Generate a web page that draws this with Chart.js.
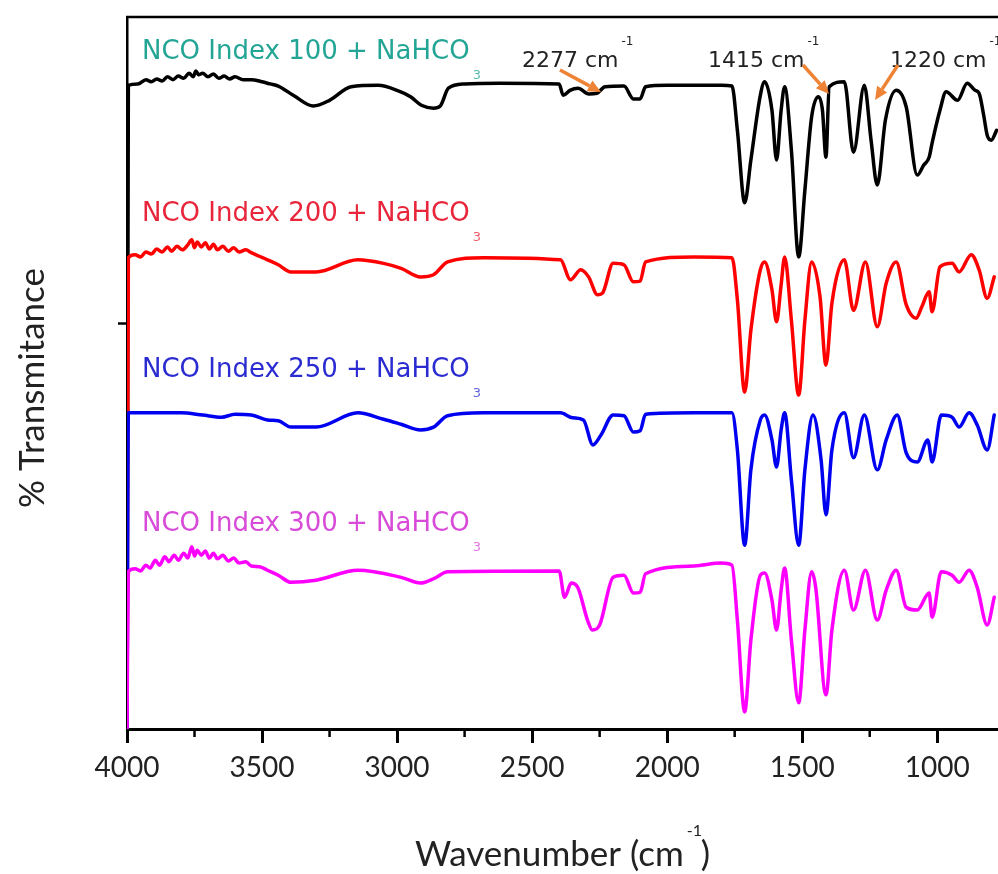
<!DOCTYPE html>
<html>
<head>
<meta charset="utf-8">
<title>FTIR NCO Index + NaHCO3</title>
<script src="https://cdn.jsdelivr.net/npm/chart.js@4.4.1/dist/chart.umd.min.js"></script>
<style>
  html, body { margin: 0; padding: 0; background: #fff; overflow: hidden; }
  #ftir-chart { display: block; }
</style>
</head>
<body>
<canvas id="ftir-chart" width="998" height="874"></canvas>
<script>
// Espectros FTIR (% transmitância com deslocamento)
const wn100 = [4000, 3995, 3960, 3930, 3910, 3890, 3870, 3850, 3830, 3810, 3790, 3770, 3755, 3745, 3735, 3720, 3700, 3680, 3660, 3640, 3620, 3600, 3570, 3540, 3500, 3470, 3440, 3380, 3310, 3250, 3170, 3070, 3000, 2950, 2910, 2865, 2840, 2810, 2750, 2620, 2400, 2385, 2360, 2330, 2290, 2260, 2230, 2160, 2125, 2100, 2080, 2000, 1800, 1760, 1740, 1713, 1690, 1655, 1639, 1612, 1595, 1578, 1565, 1540, 1513, 1490, 1465, 1440, 1425, 1412, 1400, 1344, 1310, 1270, 1245, 1222, 1192, 1152, 1115, 1074, 1050, 1030, 1019, 990, 967, 925, 889, 860, 845, 828, 815, 800, 780];
const t100 = [0, 90.4, 90.6, 91.2, 90.9, 91.3, 91.0, 91.6, 91.2, 91.7, 91.4, 92.1, 91.6, 92.4, 91.9, 92.1, 91.6, 92.0, 91.4, 91.7, 91.3, 91.6, 91.2, 91.2, 90.9, 90.6, 90.3, 88.9, 87.5, 88.3, 90.2, 90.4, 89.7, 88.8, 87.6, 87.2, 87.5, 90.0, 90.6, 90.7, 90.6, 89.0, 89.7, 90.0, 89.2, 89.3, 90.2, 90.3, 88.5, 88.5, 90.2, 90.4, 90.4, 90.3, 84.1, 73.9, 79.9, 89.0, 90.9, 86.9, 79.9, 86.9, 90.2, 81.3, 66.3, 75.7, 86.0, 88.8, 86.9, 80.3, 90.2, 90.9, 81.0, 90.4, 82.7, 76.4, 85.5, 89.7, 87.4, 77.8, 79.2, 80.3, 82.3, 86.9, 89.5, 88.3, 90.7, 89.7, 89.3, 86.2, 83.4, 82.7, 84.1];

const wn200 = [4000, 3995, 3970, 3950, 3930, 3910, 3890, 3870, 3850, 3835, 3815, 3795, 3775, 3760, 3750, 3740, 3725, 3710, 3695, 3680, 3665, 3645, 3625, 3605, 3585, 3560, 3540, 3510, 3480, 3440, 3393, 3300, 3145, 3050, 2985, 2913, 2865, 2813, 2680, 2395, 2358, 2320, 2291, 2258, 2240, 2200, 2160, 2125, 2100, 2080, 1900, 1760, 1740, 1713, 1690, 1655, 1639, 1612, 1595, 1578, 1565, 1540, 1513, 1490, 1465, 1434, 1412, 1390, 1344, 1310, 1266, 1222, 1189, 1152, 1115, 1078, 1057, 1030, 1019, 990, 945, 919, 874, 845, 815, 789];
const t200 = [0, 66.2, 66.6, 66.3, 67.0, 66.7, 67.4, 67.0, 67.7, 67.1, 67.8, 67.3, 68.0, 68.7, 67.6, 68.4, 67.7, 68.3, 67.4, 68.1, 67.3, 67.8, 67.1, 67.6, 67.0, 67.3, 66.9, 66.4, 65.9, 65.2, 64.2, 64.2, 65.9, 65.4, 64.7, 63.5, 63.8, 65.6, 66.2, 65.9, 63.1, 64.5, 63.5, 61.0, 61.2, 65.4, 65.2, 62.8, 62.9, 65.6, 66.3, 66.2, 60.3, 47.3, 56.0, 64.5, 65.6, 61.7, 57.2, 62.4, 66.3, 57.4, 46.9, 57.4, 65.6, 60.7, 51.1, 59.8, 65.9, 58.8, 65.6, 56.5, 62.6, 65.6, 59.6, 57.7, 59.3, 61.4, 58.6, 64.9, 65.4, 64.2, 66.6, 64.5, 60.5, 63.5];

const wn250 = [4000, 3995, 3800, 3720, 3650, 3600, 3540, 3480, 3440, 3393, 3300, 3145, 3050, 2985, 2913, 2865, 2813, 2680, 2395, 2350, 2310, 2275, 2245, 2200, 2160, 2125, 2100, 2080, 1900, 1760, 1740, 1713, 1690, 1655, 1639, 1612, 1595, 1578, 1565, 1540, 1513, 1490, 1460, 1430, 1412, 1390, 1344, 1310, 1270, 1222, 1189, 1148, 1115, 1074, 1035, 1030, 1019, 985, 945, 919, 882, 852, 815, 789];
const t250 = [0, 44.4, 44.4, 44.1, 43.8, 44.2, 44.1, 43.4, 43.3, 42.4, 42.4, 44.4, 43.5, 42.8, 42.0, 42.4, 44.0, 44.4, 44.4, 43.7, 43.4, 39.9, 41.3, 44.1, 44.0, 41.7, 41.9, 44.2, 44.4, 44.4, 39.2, 25.8, 36.4, 43.4, 44.1, 40.6, 36.8, 42.0, 44.4, 35.0, 25.8, 36.4, 44.1, 37.8, 30.1, 39.2, 44.4, 38.1, 44.1, 36.4, 40.6, 44.1, 38.8, 37.5, 40.6, 39.9, 37.5, 44.1, 43.8, 42.4, 44.4, 42.7, 39.2, 44.1];

const wn300 = [4000, 3995, 3970, 3950, 3930, 3915, 3895, 3880, 3860, 3845, 3825, 3810, 3790, 3775, 3760, 3750, 3740, 3725, 3710, 3695, 3680, 3665, 3645, 3625, 3605, 3585, 3560, 3540, 3510, 3480, 3440, 3393, 3300, 3145, 2985, 2913, 2860, 2813, 2400, 2380, 2355, 2330, 2295, 2277, 2250, 2200, 2160, 2125, 2100, 2080, 1900, 1800, 1760, 1740, 1713, 1690, 1655, 1639, 1612, 1595, 1578, 1565, 1540, 1513, 1490, 1465, 1450, 1412, 1390, 1344, 1310, 1266, 1222, 1189, 1152, 1115, 1074, 1030, 1019, 985, 945, 919, 882, 852, 815, 789];
const t300 = [0, 22.1, 22.5, 22.2, 23.0, 22.6, 23.7, 23.0, 24.2, 23.5, 24.4, 23.7, 24.7, 24.0, 25.6, 24.3, 25.1, 24.4, 25.0, 24.0, 24.7, 23.9, 24.4, 23.6, 24.0, 23.3, 23.5, 22.9, 22.8, 22.3, 21.6, 20.6, 20.9, 22.3, 21.3, 20.5, 21.2, 22.1, 22.2, 18.5, 20.5, 19.8, 15.3, 13.9, 14.6, 21.3, 21.6, 19.1, 19.2, 21.8, 22.9, 23.3, 23.0, 15.3, 2.4, 12.5, 21.6, 21.9, 18.1, 13.9, 19.5, 22.6, 12.5, 3.7, 13.9, 22.1, 19.9, 4.8, 13.9, 22.3, 16.7, 22.3, 15.3, 19.5, 22.3, 17.1, 16.7, 19.1, 15.7, 22.1, 21.6, 20.6, 22.3, 19.9, 14.6, 18.5];

const seriesLabels = ['NCO Index 100 + NaHCO', 'NCO Index 200 + NaHCO', 'NCO Index 250 + NaHCO', 'NCO Index 300 + NaHCO'];
const peakLabels = ['2277 cm', '1415 cm', '1220 cm'];

const xMajorTicks = [4000, 3500, 3000, 2500, 2000, 1500, 1000];
const xMinorTicks = [3750, 3250, 2750, 2250, 1750, 1250];
const yTicks = [57];

const lineColors = ['#000000', '#ff0000', '#0000f0', '#ff00ff'];
const labelColors = ['#22a595', '#e8253a', '#2b2bd2', '#d84ad8'];

function toPoints(wn, t) {
  return wn.map((x, i) => ({ x: x, y: t[i] }));
}

const series = [[wn100, t100], [wn200, t200], [wn250, t250], [wn300, t300]];

const datasets = series.map((s, i) => ({
  label: seriesLabels[i] + '3',
  data: toPoints(s[0], s[1]),
  borderColor: lineColors[i],
  backgroundColor: lineColors[i],
  borderWidth: 3.5,
  pointRadius: 0,
  cubicInterpolationMode: 'monotone',
  borderJoinStyle: 'round',
  borderCapStyle: 'round',
  fill: false,
  order: 3 - i
}));

// textos, setas e ticks menores desenhados por cima
const overlayPlugin = {
  id: 'overlay',
  afterDraw(chart) {
    const ctx = chart.ctx;
    const a = chart.chartArea;
    const x = chart.scales.x;
    ctx.save();

    // moldura superior
    ctx.strokeStyle = '#000';
    ctx.lineWidth = 2.5;
    ctx.beginPath();
    ctx.moveTo(a.left - 1, a.top);
    ctx.lineTo(a.right, a.top);
    ctx.stroke();

    // ticks menores do eixo x
    xMinorTicks.forEach(v => {
      const px = x.getPixelForValue(v);
      ctx.beginPath();
      ctx.moveTo(px, a.bottom);
      ctx.lineTo(px, a.bottom + 8);
      ctx.stroke();
    });

    // rótulos das séries
    const labelBase = [59, 221, 377, 531];
    ctx.textBaseline = 'alphabetic';
    ctx.textAlign = 'left';
    seriesLabels.forEach((txt, i) => {
      ctx.font = '26px "DejaVu Sans"';
      ctx.fillStyle = labelColors[i];
      ctx.fillText(txt, 142, labelBase[i]);
      const w = ctx.measureText(txt).width;
      ctx.font = '13px "DejaVu Sans"';
      ctx.globalAlpha = 0.75;
      ctx.fillText('3', 142 + w + 3, labelBase[i] + 20);
      ctx.globalAlpha = 1;
    });

    // picos anotados
    const peakLeft = [522, 708, 890];
    ctx.fillStyle = '#222';
    peakLabels.forEach((txt, i) => {
      ctx.font = '22px "DejaVu Sans"';
      ctx.fillText(txt, peakLeft[i], 67);
      const w = ctx.measureText(txt).width;
      ctx.font = '12px "DejaVu Sans"';
      ctx.fillText('-1', peakLeft[i] + w + 3, 45);
    });

    // setas laranja
    const arrows = [[560, 70, 601, 92], [803, 65, 829, 94], [898, 65, 875, 100]];
    ctx.strokeStyle = '#ee8336';
    ctx.fillStyle = '#ee8336';
    ctx.lineWidth = 3.5;
    arrows.forEach(([x0, y0, x1, y1]) => {
      const ang = Math.atan2(y1 - y0, x1 - x0);
      const head = 13;
      const bx = x1 - head * Math.cos(ang);
      const by = y1 - head * Math.sin(ang);
      ctx.beginPath();
      ctx.moveTo(x0, y0);
      ctx.lineTo(bx, by);
      ctx.stroke();
      ctx.beginPath();
      ctx.moveTo(x1, y1);
      ctx.lineTo(bx + 6 * Math.sin(ang), by - 6 * Math.cos(ang));
      ctx.lineTo(bx - 6 * Math.sin(ang), by + 6 * Math.cos(ang));
      ctx.closePath();
      ctx.fill();
    });

    // títulos dos eixos
    ctx.fillStyle = '#222';
    ctx.font = '35px Lato';
    const xt = 'Wavenumber (cm';
    ctx.fillText(xt, 415, 866);
    const xw = ctx.measureText(xt).width;
    ctx.font = '16px Lato';
    ctx.fillText('-1', 415 + xw + 3, 836);
    ctx.font = '35px Lato';
    ctx.fillText(')', 415 + xw + 17, 866);

    ctx.save();
    ctx.translate(33, 388);
    ctx.rotate(-Math.PI / 2);
    ctx.textAlign = 'center';
    ctx.textBaseline = 'middle';
    ctx.font = '35px Lato';
    ctx.fillText('% Transmitance', 0, 0);
    ctx.restore();

    ctx.restore();
  }
};

new Chart(document.getElementById('ftir-chart'), {
  type: 'line',
  data: { datasets: datasets },
  options: {
    responsive: false,
    animation: false,
    events: [],
    layout: { padding: { top: 17, right: 0, left: 0, bottom: 0 } },
    plugins: { legend: { display: false }, tooltip: { enabled: false } },
    scales: {
      x: {
        type: 'linear',
        reverse: true,
        min: 775,
        max: 4000,
        afterBuildTicks: s => { s.ticks = xMajorTicks.map(v => ({ value: v })); },
        afterFit: s => { s.height = 145; },
        ticks: {
          color: '#222',
          font: { family: 'Lato', size: 28 },
          padding: 8,
          maxRotation: 0,
          autoSkip: false,
          callback: v => String(v)
        },
        grid: { drawOnChartArea: false, drawTicks: true, tickLength: 14, tickWidth: 3, tickColor: '#000' },
        border: { color: '#000', width: 3 }
      },
      y: {
        type: 'linear',
        min: 0,
        max: 100,
        afterBuildTicks: s => { s.ticks = yTicks.map(v => ({ value: v })); },
        afterFit: s => { s.width = 127; },
        ticks: { display: false },
        grid: { drawOnChartArea: false, drawTicks: true, tickLength: 9, tickWidth: 2.5, tickColor: '#000' },
        border: { color: '#000', width: 2.5 }
      }
    }
  },
  plugins: [overlayPlugin]
});
</script>
</body>
</html>
